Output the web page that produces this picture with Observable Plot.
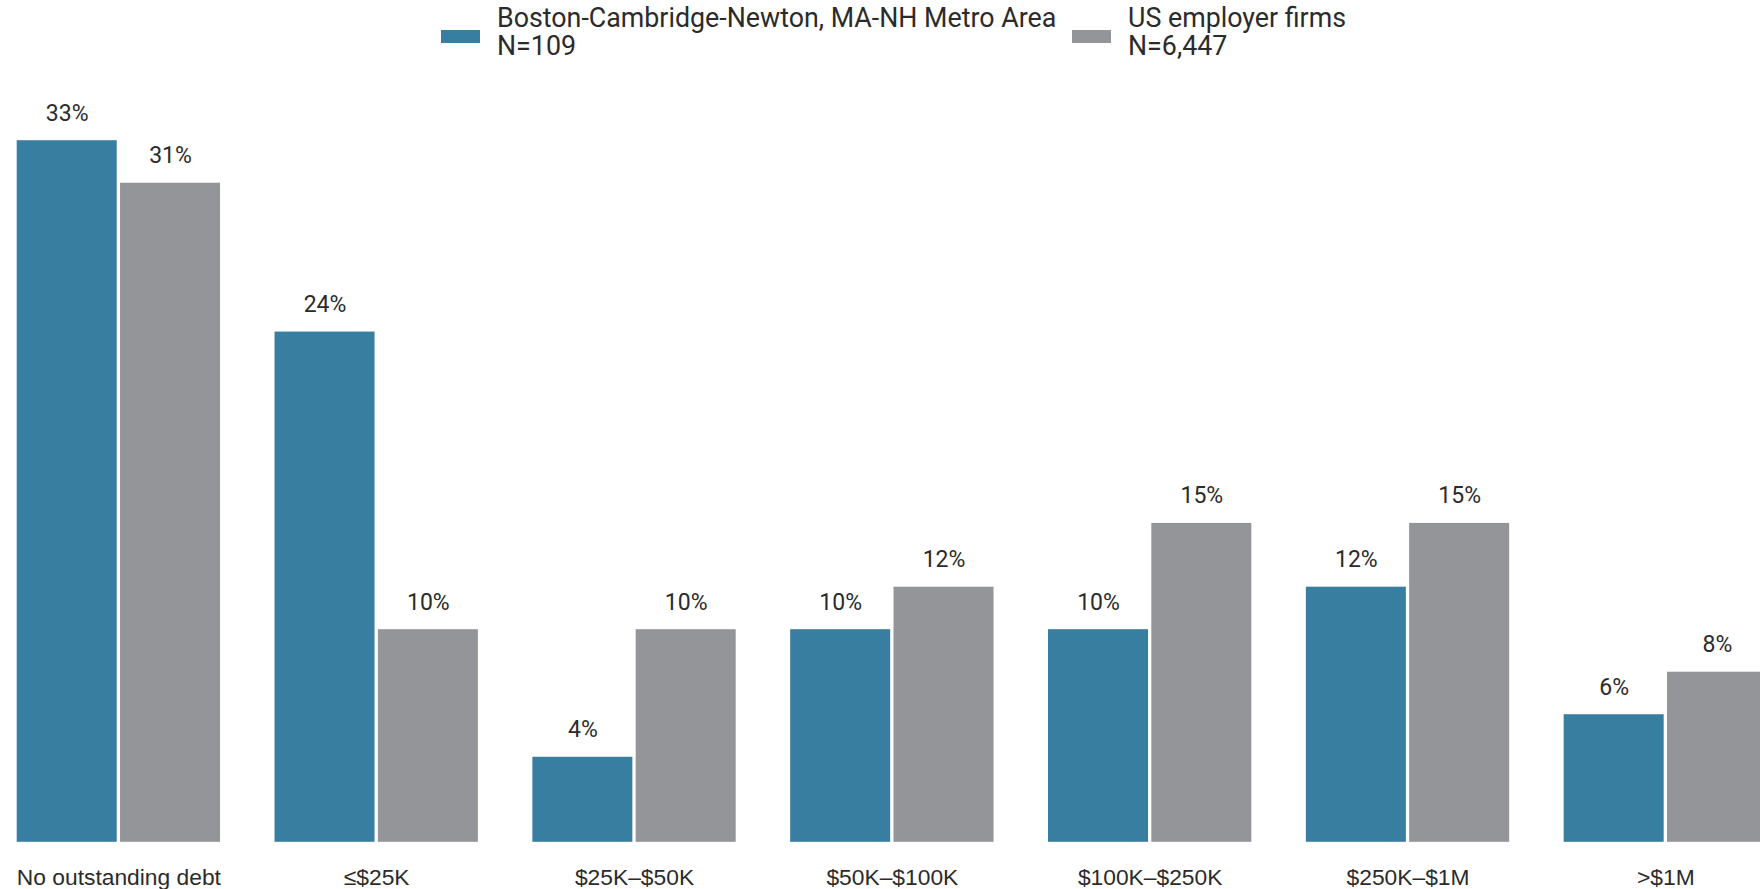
<!DOCTYPE html>
<html>
<head>
<meta charset="utf-8">
<script src="https://cdn.jsdelivr.net/npm/d3@7"></script>
<script src="https://cdn.jsdelivr.net/npm/@observablehq/plot@0.6"></script>
<style>
  html, body { margin: 0; padding: 0; background: #fff; overflow: hidden; width: 1760px; height: 889px; }
  #legend { position: relative; height: 62px; font-family: Roboto, sans-serif; font-size: 26.8px; color: #2b2b2b; }
  .item { position: absolute; top: 0; }
  .sw { position: absolute; width: 39px; height: 13px; top: 30px; left: 0; }
  .ln { position: absolute; left: 56px; height: 27px; line-height: 27px; white-space: nowrap; }
  #chart { width: 1760px; overflow: hidden; }
  #chart svg { display: block; }
</style>
</head>
<body>
<div id="legend"></div>
<div id="chart"></div>
<script>
const categories = ["No outstanding debt", "≤$25K", "$25K–$50K", "$50K–$100K", "$100K–$250K", "$250K–$1M", ">$1M"];
const seriesNames = ["Boston-Cambridge-Newton, MA-NH Metro Area", "US employer firms"];
const seriesN = ["N=109", "N=6,447"];
const seriesColors = ["#387ea0", "#939598"];
const bostonValues = [33, 24, 4, 10, 10, 12, 6];
const usValues = [31, 10, 10, 12, 15, 15, 8];

const data = [];
categories.forEach((c, i) => {
  data.push({category: c, series: seriesNames[0], value: bostonValues[i]});
  data.push({category: c, series: seriesNames[1], value: usValues[i]});
});

// legend
const legend = document.getElementById("legend");
const legendLefts = [441, 1072];
seriesNames.forEach((s, i) => {
  const item = document.createElement("div");
  item.className = "item";
  item.style.left = legendLefts[i] + "px";
  item.innerHTML = `<div class="sw" style="background:${seriesColors[i]}"></div>` +
    `<div class="ln" style="top:4.5px">${s}</div><div class="ln" style="top:32.5px">${seriesN[i]}</div>`;
  legend.appendChild(item);
});

const chart = Plot.plot({
  width: 1767,
  height: 827,
  marginLeft: 16.7,
  marginRight: 0,
  marginTop: 35.7,
  marginBottom: 47.2,
  style: {background: "#fff", color: "#2b2b2b", maxWidth: "none", overflow: "visible"},
  fx: {domain: categories, paddingInner: 0.2113, paddingOuter: 0, round: false, label: null},
  x: {domain: seriesNames, paddingInner: 0.032, paddingOuter: 0, round: false, axis: null},
  y: {domain: [0, 35], axis: null},
  color: {domain: seriesNames, range: seriesColors},
  marks: [
    Plot.barY(data, {fx: "category", x: "series", y: "value", fill: "series"}),
    Plot.text(data, {fx: "category", x: "series", y: "value", text: d => d.value + "%", dy: -27.5,
      fontSize: 23, fontFamily: "Roboto, sans-serif", fill: "#2b2b2b"}),
    Plot.axisFx({anchor: "bottom", tickSize: 0, tickPadding: 26.5, fontSize: 22.8, label: null,
      fontFamily: "'Liberation Sans', Arial, sans-serif", fill: "#2b2b2b"})
  ]
});
document.getElementById("chart").appendChild(chart);
</script>
</body>
</html>
